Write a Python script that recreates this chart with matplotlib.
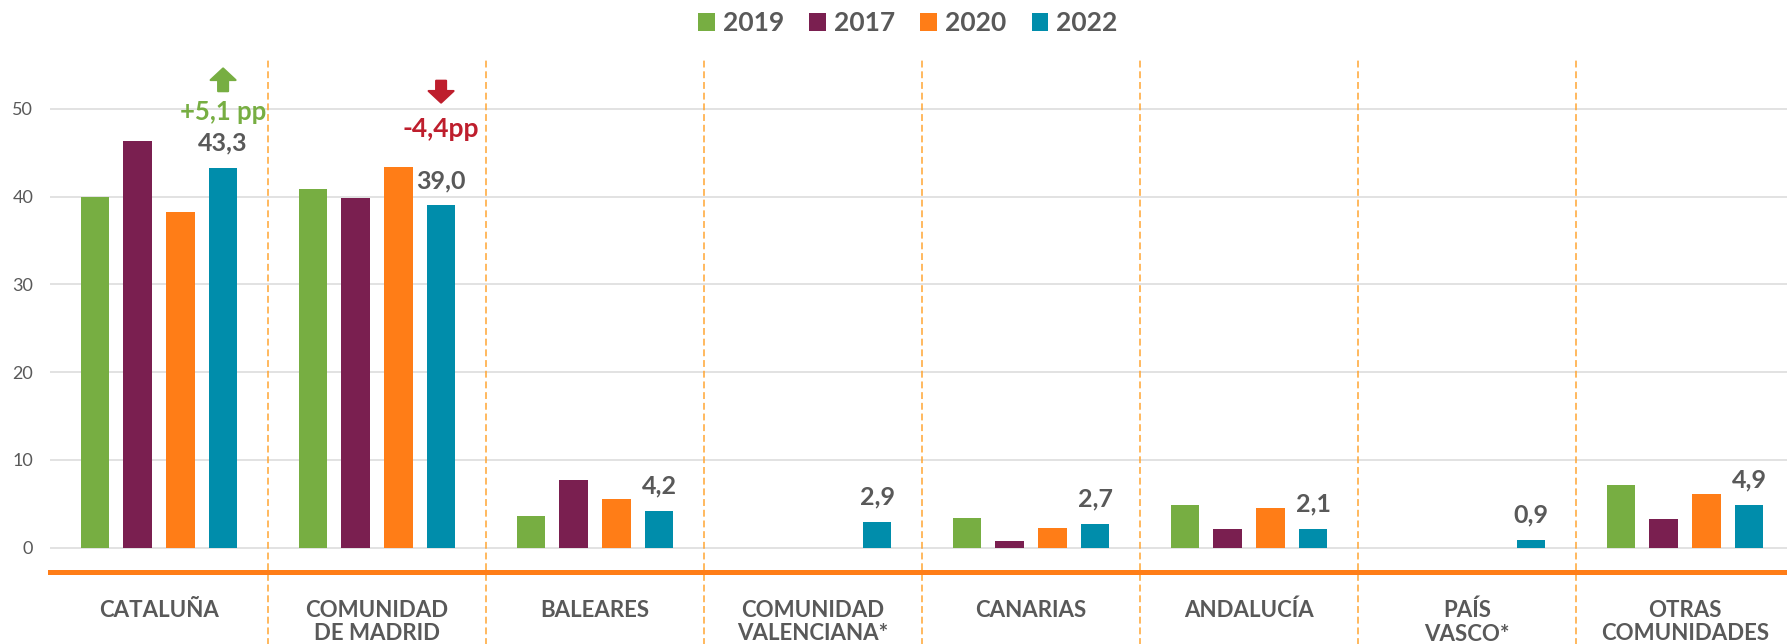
import numpy as np
import matplotlib
matplotlib.use('Agg')
import matplotlib.pyplot as plt

plt.rcParams['font.family'] = ['Lato', 'DejaVu Sans']

# Data
regions = ['CATALUÑA', 'COMUNIDAD\nDE MADRID', 'BALEARES', 'COMUNIDAD\nVALENCIANA*',
           'CANARIAS', 'ANDALUCÍA', 'PAÍS\nVASCO*', 'OTRAS\nCOMUNIDADES']
years = ['2019', '2017', '2020', '2022']
v2019 = [40.0, 40.9, 3.6, np.nan, 3.4, 4.9, np.nan, 7.1]
v2017 = [46.3, 39.8, 7.7, np.nan, 0.8, 2.1, np.nan, 3.3]
v2020 = [38.2, 43.4, 5.6, np.nan, 2.2, 4.5, np.nan, 6.1]
v2022 = [43.3, 39.0, 4.2, 2.9, 2.7, 2.1, 0.9, 4.9]

# change notes (region index, text, direction)
notes = [(0, '+5,1 pp', 'up'), (1, '-4,4pp', 'down')]

colors = ['#77AE42', '#7A1F50', '#FF7D17', '#008DAB']
gray = '#595959'
dash_col = '#FFA533'

fig = plt.figure(figsize=(17.87, 6.44), dpi=100)
ax = fig.add_axes([50 / 1787, 72 / 644, 1737 / 1787, 515 / 644])

x = np.arange(len(regions))
series = [v2019, v2017, v2020, v2022]
step = 0.196
width = 0.132
for i, vals in enumerate(series):
    ax.bar(x + (i - 1.5) * step, vals, width, color=colors[i], label=years[i], zorder=3)

# value labels on the 2022 bars
for xi, v in zip(x, v2022):
    ax.annotate(f'{v:.1f}'.replace('.', ','), (xi + 1.5 * step, v), xytext=(0, 12.5),
                textcoords='offset points', ha='center', va='baseline',
                fontsize=18, fontweight='bold', color=gray)

# change notes with arrows
astyle = 'simple,head_length=0.42,head_width=0.9,tail_width=0.36'
for idx, txt, d in notes:
    xc = idx + 1.5 * step
    if d == 'up':
        col = '#77AE42'
        ax.annotate('', xy=(xc, 54.6), xytext=(xc, 52.0),
                    arrowprops=dict(arrowstyle=astyle, mutation_scale=20, color=col,
                                    lw=1.5, joinstyle='round', shrinkA=0, shrinkB=0))
        ax.text(xc, 48.7, txt, ha='center', va='baseline', fontsize=18.5,
                fontweight='bold', color=col)
    else:
        col = '#BE1E2D'
        ax.annotate('', xy=(xc, 50.7), xytext=(xc, 53.2),
                    arrowprops=dict(arrowstyle=astyle, mutation_scale=20, color=col,
                                    lw=1.5, joinstyle='round', shrinkA=0, shrinkB=0))
        ax.text(xc, 46.8, txt, ha='center', va='baseline', fontsize=19,
                fontweight='bold', color=col)

ax.set_xlim(-0.5, -0.5 + 1737 / 218)
ax.set_ylim(-2.77, 55.9)
ax.set_yticks([0, 10, 20, 30, 40, 50])
ax.yaxis.grid(True, color='#DADADA', linewidth=1.1, zorder=0)
ax.set_axisbelow(True)

ax.set_xticks(x)
ax.set_xticklabels(regions, fontsize=16, fontweight='bold', color=gray,
                   va='top', linespacing=1.15)
ax.tick_params(axis='x', length=0, pad=20)
ax.tick_params(axis='y', length=0, pad=12, labelsize=13, labelcolor=gray)

for s in ['top', 'right', 'left']:
    ax.spines[s].set_visible(False)
ax.spines['bottom'].set_color('#FF7D17')
ax.spines['bottom'].set_linewidth(3.6)

# dashed separators between regions
for b in x[:-1] + 0.5:
    ax.axvline(b, ymin=-0.15, ymax=1.0, color=dash_col, linewidth=1.1,
               linestyle=(0, (4.5, 2.5)), clip_on=False, zorder=1)

leg = fig.legend(loc='center', bbox_to_anchor=(908 / 1787, 1 - 23 / 644), ncol=4,
                 frameon=False, fontsize=19, handlelength=0.62, handleheight=0.68,
                 handletextpad=0.32, columnspacing=0.95, borderaxespad=0)
for t in leg.get_texts():
    t.set_color(gray)
    t.set_fontweight('bold')

fig.savefig('out.png', dpi=100)
